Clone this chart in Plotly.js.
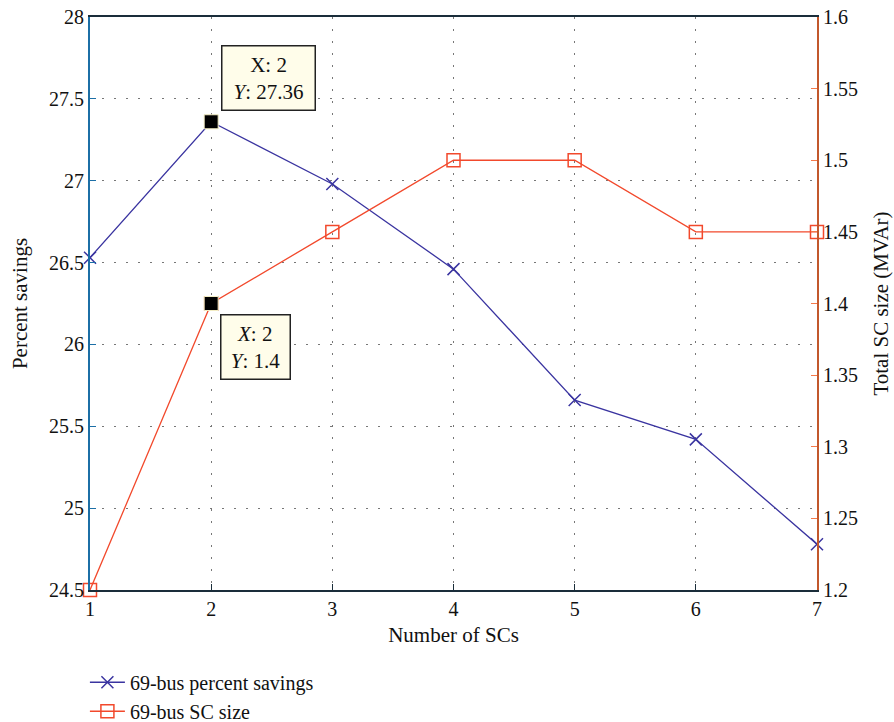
<!DOCTYPE html>
<html>
<head>
<meta charset="utf-8">
<script src="https://cdn.plot.ly/plotly-3.0.1.min.js"></script>
<style>
html,body{margin:0;padding:0;background:#fff;}
#chart{width:894px;height:722px;}
</style>
</head>
<body>
<div id="chart"></div>
<script>
const numberOfSCs = [1, 2, 3, 4, 5, 6, 7];
const percentSavings = [26.53, 27.36, 26.98, 26.46, 25.66, 25.42, 24.78];
const scSize = [1.2, 1.4, 1.45, 1.5, 1.5, 1.45, 1.45];
const seriesNames = ["69-bus percent savings", "69-bus SC size"];
const tipIndex = 1;

const FONT = "Liberation Serif, Times New Roman, serif";
const gridDash = "2px,10px";
const TICK = 20, TITLE = 21;

const traces = [
  {
    x: numberOfSCs, y: percentSavings, name: seriesNames[0],
    type: "scatter", mode: "lines+markers", yaxis: "y",
    line: {color: "#3a34a0", width: 1.3},
    marker: {symbol: "x-thin-open", size: 12, color: "#3a34a0", line: {color: "#3a34a0", width: 1.5}},
    cliponaxis: false
  },
  {
    x: numberOfSCs, y: scSize, name: seriesNames[1],
    type: "scatter", mode: "lines+markers", yaxis: "y2",
    line: {color: "#f2492c", width: 1.3},
    marker: {symbol: "square-open", size: 13, color: "#f2492c", line: {color: "#f2492c", width: 1.5}},
    cliponaxis: false
  },
  {
    x: [numberOfSCs[tipIndex]], y: [percentSavings[tipIndex]], yaxis: "y",
    type: "scatter", mode: "markers", showlegend: false, hoverinfo: "skip",
    marker: {symbol: "square", size: 14, color: "#000", line: {color: "#f3edc4", width: 1}},
    cliponaxis: false
  },
  {
    x: [numberOfSCs[tipIndex]], y: [scSize[tipIndex]], yaxis: "y2",
    type: "scatter", mode: "markers", showlegend: false, hoverinfo: "skip",
    marker: {symbol: "square", size: 14, color: "#000", line: {color: "#f3edc4", width: 1}},
    cliponaxis: false
  }
];

const layout = {
  width: 894, height: 722,
  margin: {l: 90, r: 77, t: 17, b: 132, autoexpand: false},
  paper_bgcolor: "#fff", plot_bgcolor: "#fff",
  font: {family: FONT, size: TICK, color: "#111"},
  showlegend: true,
  legend: {
    x: -0.007, y: -0.127, xanchor: "left", yanchor: "top",
    orientation: "v", bgcolor: "rgba(0,0,0,0)",
    font: {family: FONT, size: 20, color: "#111"},
    tracegroupgap: 0, itemwidth: 35
  },
  xaxis: {
    range: [1, 7], dtick: 1, tick0: 1,
    showline: true, linecolor: "#1a2d3a", linewidth: 2, mirror: true,
    ticks: "inside", ticklen: 6, tickcolor: "#1a2d3a",
    showgrid: true, gridcolor: "#777", gridwidth: 1, griddash: gridDash,
    zeroline: false,
    tickfont: {family: FONT, size: TICK, color: "#111"},
    title: {text: "Number of SCs", font: {family: FONT, size: TITLE, color: "#111"}, standoff: 8}
  },
  yaxis: {
    range: [24.5, 28], dtick: 0.5, tick0: 24.5,
    showline: true, linecolor: "#1c6fa6", linewidth: 2,
    ticks: "inside", ticklen: 6, tickcolor: "#1c6fa6",
    showgrid: true, gridcolor: "#777", gridwidth: 1, griddash: gridDash,
    zeroline: false,
    tickfont: {family: FONT, size: TICK, color: "#111"},
    title: {text: "Percent savings", font: {family: FONT, size: TITLE, color: "#111"}, standoff: 16}
  },
  yaxis2: {
    range: [1.2, 1.6], dtick: 0.05, tick0: 1.2,
    overlaying: "y", side: "right",
    showline: true, linecolor: "#c2582c", linewidth: 2,
    ticks: "inside", ticklen: 6, tickcolor: "#f57a4a",
    showgrid: false, zeroline: false,
    tickfont: {family: FONT, size: TICK, color: "#111"},
    title: {text: "Total SC size (MVAr)", font: {family: FONT, size: TITLE, color: "#111"}, standoff: 16}
  },
  annotations: [
    {
      x: numberOfSCs[tipIndex], y: percentSavings[tipIndex], xref: "x", yref: "y",
      text: "X: " + numberOfSCs[tipIndex] + "<br><i>Y</i>: " + percentSavings[tipIndex],
      showarrow: false, xanchor: "left", yanchor: "bottom", xshift: 10, yshift: 11,
      align: "center", bgcolor: "#fffdea", bordercolor: "#222", borderwidth: 1.5, borderpad: 6,
      font: {family: FONT, size: TITLE, color: "#111"}, width: 80
    },
    {
      x: numberOfSCs[tipIndex], y: scSize[tipIndex], xref: "x", yref: "y2",
      text: "<i>X</i>: " + numberOfSCs[tipIndex] + "<br><i>Y</i>: " + scSize[tipIndex],
      showarrow: false, xanchor: "left", yanchor: "top", xshift: 9, yshift: -10,
      align: "center", bgcolor: "#fffdea", bordercolor: "#222", borderwidth: 1.5, borderpad: 6,
      font: {family: FONT, size: TITLE, color: "#111"}, width: 56
    }
  ]
};

Plotly.newPlot("chart", traces, layout, {displayModeBar: false, staticPlot: true});
</script>
</body>
</html>
